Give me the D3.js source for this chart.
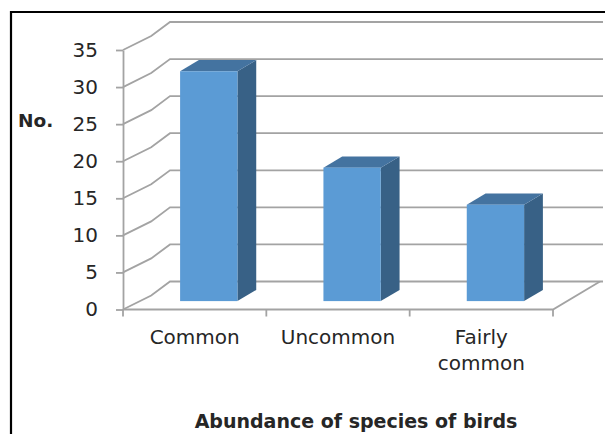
<!DOCTYPE html>
<html>
<head>
<meta charset="utf-8">
<script src="https://cdn.jsdelivr.net/npm/d3@7"></script>
<style>
  html, body { margin: 0; padding: 0; background: #fff; }
  svg { display: block; }
  text { font-family: "DejaVu Sans", sans-serif; fill: #262626; }
</style>
</head>
<body>
<script>
// ---- data ----
const categories = ["Common", "Uncommon", "Fairly common"];
const values = [31, 18, 13];
const yTicks = [0, 5, 10, 15, 20, 25, 30, 35];
const yTitle = "No.";
const xTitle = "Abundance of species of birds";

// ---- layout ----
const W = 605, H = 434;
const plot = { left: 123, right: 553, bottom: 309.5, top: 50 };
const depth = { dx: 47, dy: -28 };   // full floor depth offset
const barDepth = [0.3, 0.7];          // bar occupies this fraction of depth
const wallRight = 603;

const svg = d3.select("body").append("svg").attr("width", W).attr("height", H);

const x = d3.scaleBand().domain(categories).range([plot.left, plot.right]).padding(0);
const y = d3.scaleLinear().domain([0, 35]).range([plot.bottom, plot.top]);

const gridColor = "#a3a3a3";

// border frame
svg.append("path")
  .attr("d", `M11,${H} V12 H${W}`)
  .attr("fill", "none").attr("stroke", "#000").attr("stroke-width", 2.2);

// back wall gridlines + side wall lines (with slight perspective kink)
const g = svg.append("g").attr("fill", "none").attr("stroke", gridColor).attr("stroke-width", 1.8);
yTicks.forEach(v => {
  const yf = y(v), yb = y(v) + depth.dy;
  const xf = plot.left, xb = plot.left + depth.dx;
  const kx = xf + depth.dx * 0.6, ky = yf + depth.dy * 0.5;
  g.append("path").attr("d", `M${xf},${yf} L${kx},${ky} L${xb},${yb} L${wallRight},${yb}`);
});
// floor front edge and right edge
g.append("path").attr("d",
  `M${plot.left},${y(0)} H${plot.right} L${plot.right + depth.dx},${y(0) + depth.dy}`);

// front vertical axis
const yAxis = d3.axisLeft(y).tickValues(yTicks).tickSize(7).tickSizeOuter(0).tickPadding(18);
const ya = svg.append("g").attr("transform", `translate(${plot.left},0)`).call(yAxis);
ya.select(".domain").attr("stroke", gridColor).attr("stroke-width", 1.8);
ya.selectAll(".tick line").attr("stroke", gridColor).attr("stroke-width", 1.8);
ya.selectAll(".tick text").style("font-size", "20px").attr("fill", "#262626");

// x ticks at category boundaries
const bounds = categories.map(c => x(c)).concat([x(categories[categories.length - 1]) + x.bandwidth()]);
svg.append("g").selectAll("line").data(bounds).join("line")
  .attr("x1", d => d).attr("x2", d => d)
  .attr("y1", y(0)).attr("y2", y(0) + 7)
  .attr("stroke", gridColor).attr("stroke-width", 1.8);

// 3D bars
const bw = x.bandwidth() * 0.4;
const d1x = depth.dx * barDepth[0], d1y = depth.dy * barDepth[0];
const ddx = depth.dx * (barDepth[1] - barDepth[0]), ddy = depth.dy * (barDepth[1] - barDepth[0]);
const bars = svg.append("g");
categories.forEach((c, i) => {
  const cx = x(c) + x.bandwidth() / 2 + d1x;
  const x0 = cx - bw / 2, x1 = cx + bw / 2;
  const yTop = y(values[i]) + d1y, yBot = y(0) + d1y;
  // side
  bars.append("path")
    .attr("d", `M${x1},${yTop} L${x1 + ddx},${yTop + ddy} L${x1 + ddx},${yBot + ddy} L${x1},${yBot} Z`)
    .attr("fill", "#386186");
  // top
  bars.append("path")
    .attr("d", `M${x0},${yTop} L${x1},${yTop} L${x1 + ddx},${yTop + ddy} L${x0 + ddx},${yTop + ddy} Z`)
    .attr("fill", "#4473a0");
  // front
  bars.append("rect")
    .attr("x", x0).attr("y", yTop).attr("width", bw).attr("height", yBot - yTop)
    .attr("fill", "#5b9bd5");
});

// category labels (wrapped to band width)
const labels = svg.append("g").style("font-size", "20px").attr("text-anchor", "middle");
categories.forEach(c => {
  const t = labels.append("text").attr("x", x(c) + x.bandwidth() / 2).attr("y", 344);
  const words = c.split(" ");
  let line = [], tspan = t.append("tspan").attr("x", x(c) + x.bandwidth() / 2).attr("dy", 0);
  let lineNo = 0;
  words.forEach(w => {
    line.push(w);
    tspan.text(line.join(" "));
    if (tspan.node().getComputedTextLength() > x.bandwidth() - 4 && line.length > 1) {
      line.pop();
      tspan.text(line.join(" "));
      line = [w];
      lineNo++;
      tspan = t.append("tspan").attr("x", x(c) + x.bandwidth() / 2).attr("dy", 26).text(w);
    }
  });
});

// axis titles
svg.append("text").attr("x", 18).attr("y", 127)
  .style("font-size", "18.5px").style("font-weight", "bold").text(yTitle);
svg.append("text").attr("x", 356).attr("y", 428).attr("text-anchor", "middle")
  .style("font-size", "19px").style("font-weight", "bold").text(xTitle);
</script>
</body>
</html>
